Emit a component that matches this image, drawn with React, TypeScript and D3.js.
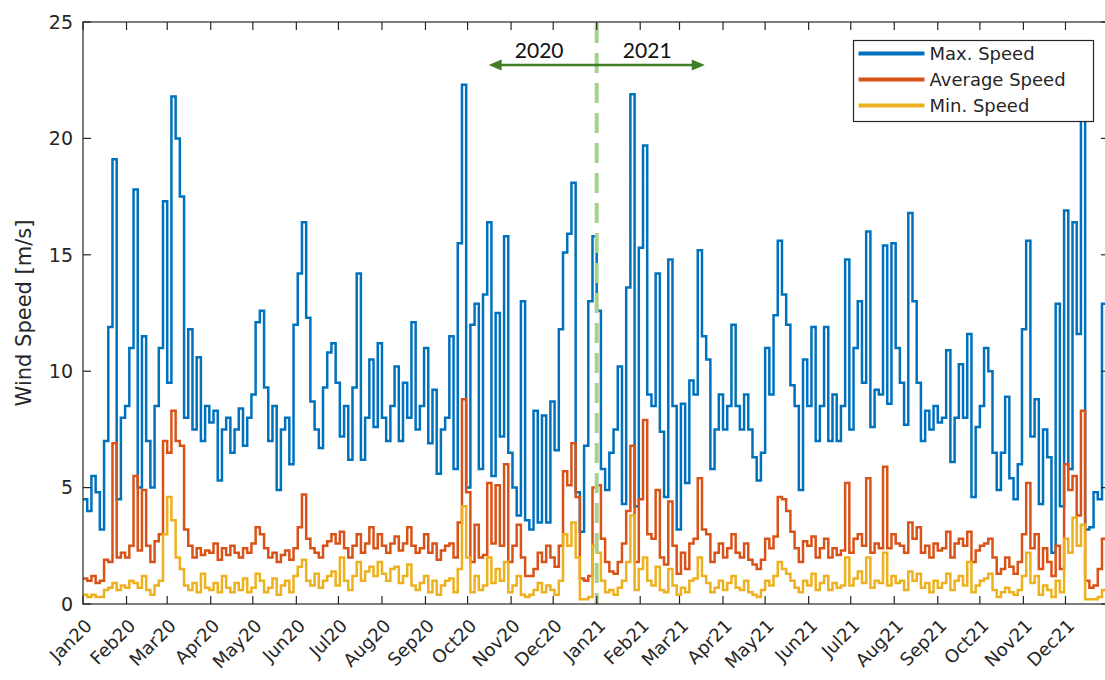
import React, { useEffect, useRef } from "react";
import * as d3 from "d3";

// daily wind speed, sampled every 3 days, Jan 2020 - Dec 2021
const startDate = new Date(2020, 0, 1);
const endDate = new Date(2022, 0, 1);
const stepDays = 3;

const maxSpeed = [
  4.5, 4.0, 5.5, 4.8, 3.2, 7.0, 11.9, 19.1, 4.5, 8.0,
  8.5, 11.0, 17.8, 5.0, 11.5, 7.0, 5.0, 8.5, 11.0, 17.3,
  9.5, 21.8, 20.0, 17.5, 8.0, 11.8, 7.5, 10.6, 7.0, 8.5,
  7.8, 8.3, 5.3, 7.5, 8.0, 6.5, 7.5, 8.4, 6.8, 8.0,
  9.0, 12.1, 12.6, 9.3, 7.0, 8.5, 4.9, 7.5, 8.0, 6.0,
  12.0, 14.2, 16.4, 12.3, 8.7, 7.5, 6.7, 9.3, 10.8, 11.2,
  9.5, 7.2, 8.5, 6.2, 9.3, 14.2, 6.2, 8.0, 10.5, 7.6,
  11.2, 8.0, 7.0, 8.5, 10.2, 7.0, 9.5, 8.0, 12.1, 7.5,
  8.5, 11.0, 6.9, 9.2, 5.6, 7.5, 8.0, 11.5, 5.8, 15.5,
  22.3, 5.0, 12.0, 12.9, 5.8, 13.3, 16.4, 5.5, 12.5, 7.2,
  15.8, 6.5, 5.0, 3.8, 13.0, 3.6, 3.2, 8.3, 3.5, 8.1,
  3.5, 8.7, 6.6, 11.8, 15.1, 15.9, 18.1, 4.8, 3.1, 6.8,
  13.0, 15.8, 12.6, 5.8, 4.9, 6.5, 7.5, 10.2, 4.3, 13.6,
  21.9, 4.2, 15.3, 19.7, 9.0, 8.5, 14.2, 7.4, 4.6, 14.8,
  8.5, 3.2, 8.6, 5.2, 9.6, 9.0, 15.2, 11.5, 10.5, 5.8,
  7.5, 9.0, 7.5, 8.5, 12.0, 8.5, 7.5, 9.0, 7.5, 6.3,
  5.3, 6.5, 11.0, 9.0, 12.4, 15.6, 13.3, 12.0, 9.4, 8.5,
  4.9, 10.5, 8.5, 11.9, 7.0, 8.5, 11.9, 7.0, 9.0, 7.0,
  8.5, 14.8, 7.5, 11.0, 13.0, 9.5, 16.0, 7.6, 9.2, 9.0,
  15.4, 8.6, 15.5, 11.0, 9.5, 7.7, 16.8, 13.0, 9.5, 7.0,
  8.3, 7.5, 8.5, 7.8, 8.0, 10.9, 6.1, 8.0, 10.3, 8.0,
  11.6, 4.6, 7.6, 8.5, 11.0, 10.0, 6.5, 4.9, 6.5, 8.9,
  5.4, 4.5, 6.0, 11.8, 15.6, 7.2, 8.8, 4.3, 7.5, 6.3,
  2.2, 12.9, 4.2, 16.9, 5.8, 16.4, 11.6, 20.9, 3.2, 3.3,
  4.8, 4.5, 12.9, 5.0,
];

const avgSpeed = [
  1.1, 1.0, 1.2, 0.9, 1.0, 1.9, 1.8, 6.9, 2.0, 2.2,
  2.0, 2.5, 5.5, 2.3, 4.9, 2.5, 1.8, 2.7, 3.0, 7.0,
  6.5, 8.3, 7.0, 6.8, 3.2, 2.5, 2.0, 2.4, 2.1, 2.3,
  2.2, 2.6, 1.9, 2.4, 2.1, 2.5, 2.2, 2.0, 2.4, 2.2,
  2.6, 3.3, 3.0, 2.4, 2.0, 2.2, 1.8, 2.1, 2.3, 1.9,
  2.4, 3.3, 4.7, 2.8, 2.4, 2.2, 2.0, 2.5, 2.7, 3.0,
  2.6, 3.1, 2.4, 2.0, 2.5, 3.0, 2.2, 2.6, 3.3, 2.4,
  3.0, 2.5, 2.2, 2.6, 2.9, 2.3, 2.6, 3.3, 2.5, 2.2,
  2.4, 3.0, 2.2, 2.6, 1.9, 2.3, 2.5, 2.6, 2.0, 3.5,
  8.8, 4.8, 1.8, 3.4, 2.0, 2.1, 5.2, 2.6, 5.1, 2.5,
  6.0, 1.8, 2.5, 3.4, 2.0, 1.2, 1.2, 1.5, 2.2, 1.8,
  2.5, 2.0, 1.6, 2.5, 5.7, 5.1, 6.9, 4.6, 1.1, 1.0,
  1.2, 5.0, 5.1, 2.8, 1.8, 1.4, 1.3, 1.8, 2.6, 4.0,
  6.8, 1.8, 4.5, 7.9, 3.0, 2.8, 4.9, 2.0, 1.7, 4.4,
  2.5, 1.3, 2.2, 1.5, 2.6, 2.8, 5.4, 3.2, 3.0, 1.8,
  2.2, 2.6, 2.0, 2.4, 3.0, 2.2, 2.0, 2.6, 1.9, 1.7,
  1.5, 1.9, 2.8, 2.4, 2.9, 4.6, 4.5, 4.0, 3.1, 2.4,
  1.8, 2.7, 2.5, 2.9, 2.0, 2.4, 2.8, 2.0, 2.4, 2.1,
  2.3, 5.2, 2.2, 2.8, 3.0, 2.5, 5.4, 2.2, 2.6, 2.4,
  5.9, 2.4, 3.0, 2.6, 2.5, 2.2, 3.5, 2.8, 3.3, 2.2,
  2.5, 2.0, 2.6, 2.3, 2.4, 3.1, 2.0, 2.6, 2.8, 2.5,
  3.1, 1.8, 2.3, 2.5, 2.6, 2.8, 2.0, 1.3, 1.5, 2.0,
  1.6, 1.3, 1.8, 3.0, 5.2, 2.4, 3.0, 1.5, 2.4, 1.8,
  1.2, 2.5, 1.5, 6.0, 4.9, 5.5, 3.8, 8.3, 1.0, 0.7,
  0.8, 1.5, 2.8, 1.6,
];

const minSpeed = [
  0.4, 0.3, 0.4, 0.3, 0.3, 0.6, 0.7, 0.9, 0.6, 0.8,
  0.7, 1.0, 0.9, 0.7, 1.2, 0.6, 0.4, 0.8, 1.0, 3.0,
  4.6, 3.6, 2.0, 1.5, 0.8, 0.6, 0.9, 0.5, 1.3, 0.7,
  0.6, 0.9, 0.5, 1.2, 0.7, 0.5, 0.9, 0.6, 1.1, 0.5,
  0.7, 1.3, 1.0, 0.5, 0.7, 1.1, 0.4, 0.8, 1.0, 0.5,
  1.2, 1.6, 1.9, 1.0, 0.8, 1.3, 0.7, 1.0, 1.2, 1.4,
  0.8, 2.0, 1.0, 0.6, 1.2, 1.8, 1.0, 1.4, 1.6, 1.2,
  1.8, 1.3, 1.0, 1.5, 1.6, 0.9, 1.2, 1.7, 0.8, 0.6,
  0.9, 1.2, 0.5, 1.0, 0.4, 0.8, 1.0, 1.1, 0.5, 1.5,
  4.2, 2.0, 0.5, 1.2, 0.6, 0.8, 2.0, 0.9, 1.5, 1.0,
  1.8, 0.5, 0.8, 1.2, 0.4, 0.3, 0.4, 0.6, 0.9, 0.5,
  0.8, 0.6, 0.4, 1.0, 3.0, 2.5, 3.5, 2.0, 0.2, 0.2,
  0.3, 2.5, 2.2, 1.0, 0.5, 0.6, 0.4, 0.7, 1.0, 1.8,
  3.8, 0.6, 1.5, 2.0, 1.0, 0.8, 1.6, 0.6, 0.5, 1.5,
  0.8, 0.4, 0.7, 0.5, 1.0, 1.1, 2.0, 1.2, 0.9, 0.5,
  0.7, 1.0, 0.6, 0.9, 1.2, 0.7, 0.6, 1.0, 0.5, 0.4,
  0.3, 0.6, 1.0, 0.8, 1.2, 1.8, 1.5, 1.3, 1.0, 0.7,
  0.5, 1.0, 0.8, 1.3, 0.6, 0.9, 1.2, 0.6, 0.9, 0.7,
  0.8, 2.0, 0.8, 1.1, 1.4, 0.9, 2.0, 0.7, 1.0, 0.9,
  2.2, 0.8, 1.2, 0.9, 1.0, 0.6, 1.4, 1.0, 1.3, 0.7,
  0.9, 0.5, 1.0, 0.7, 0.9, 1.3, 0.6, 1.0, 1.2, 0.8,
  1.8, 0.5, 0.8, 1.0, 1.1, 1.3, 0.6, 0.3, 0.5, 0.7,
  0.5, 0.4, 0.6, 1.2, 2.2, 0.9, 1.2, 0.4, 0.8, 0.6,
  0.3, 1.0, 0.5, 2.8, 2.2, 3.7, 2.5, 3.4, 0.2, 0.2,
  0.2, 0.3, 0.6, 0.4,
];

const yTicks = [0, 5, 10, 15, 20, 25];
const legendLabels = ["Max. Speed", "Average Speed", "Min. Speed"];
const seriesColors = ["#0072BD", "#D95319", "#EDB120"];

// year annotation
const yearBoundary = new Date(2021, 0, 1);
const yearLabels = ["2020", "2021"];
const yearLabelDates = [new Date(2020, 10, 21), new Date(2021, 1, 6)];
const arrowStart = new Date(2020, 9, 16);
const arrowEnd = new Date(2021, 2, 19);
const arrowLevel = 23.15;
const yearLabelLevel = 23.45;

export default function App() {
  const svgRef = useRef<SVGSVGElement>(null);

  useEffect(() => {
    drawChart();
  }, []);

  function drawChart() {
    const width = 1105;
    const height = 680;
    const left = 83, right = 1109, top = 22, bottom = 604;
    const font = "DejaVu Sans, Verdana, sans-serif";
    const axisColor = "#262626";

    const svg = d3.select(svgRef.current)
      .attr("width", width)
      .attr("height", height);
    svg.selectAll("*").remove();

    const x = d3.scaleTime().domain([startDate, endDate]).range([left, right]);
    const y = d3.scaleLinear().domain([0, 25]).range([bottom, top]);

    svg.append("rect")
      .attr("width", width).attr("height", height).attr("fill", "#fff");

    svg.append("clipPath").attr("id", "plot-clip")
      .append("rect")
      .attr("x", left).attr("y", top)
      .attr("width", right - left).attr("height", bottom - top);

    // stairs for the three series
    const toPoints = (vals: number[]) => {
      const pts = vals.map((v, i) => ({ date: d3.timeDay.offset(startDate, i * stepDays), v }));
      pts.push({ date: d3.timeDay.offset(startDate, vals.length * stepDays), v: vals[vals.length - 1] });
      return pts;
    };
    const line = d3.line<{ date: Date; v: number }>()
      .x(d => x(d.date))
      .y(d => y(d.v))
      .curve(d3.curveStepAfter);

    const plot = svg.append("g").attr("clip-path", "url(#plot-clip)");
    [maxSpeed, avgSpeed, minSpeed].forEach((vals, i) => {
      plot.append("path")
        .attr("d", line(toPoints(vals)))
        .attr("fill", "none")
        .attr("stroke", seriesColors[i])
        .attr("stroke-width", 2.5)
        .attr("stroke-linejoin", "miter");
    });

    // year boundary
    svg.append("line")
      .attr("x1", x(yearBoundary)).attr("x2", x(yearBoundary))
      .attr("y1", y(25) + 1).attr("y2", y(0))
      .attr("stroke", "#a9d18e")
      .attr("stroke-width", 4)
      .attr("stroke-dasharray", "20,10");

    // box
    svg.append("rect")
      .attr("x", left).attr("y", top)
      .attr("width", right - left).attr("height", bottom - top)
      .attr("fill", "none")
      .attr("stroke", axisColor)
      .attr("stroke-width", 1.2);

    // x ticks (months)
    const months = x.ticks(d3.timeMonth.every(1)!).filter(d => d < endDate);
    const fmt = d3.timeFormat("%b%y");
    months.forEach(d => {
      const tx = x(d);
      svg.append("line")
        .attr("x1", tx).attr("x2", tx).attr("y1", bottom).attr("y2", bottom - 8)
        .attr("stroke", axisColor).attr("stroke-width", 1.2);
      svg.append("line")
        .attr("x1", tx).attr("x2", tx).attr("y1", top).attr("y2", top + 8)
        .attr("stroke", axisColor).attr("stroke-width", 1.2);
      svg.append("text")
        .attr("transform", `translate(${tx + 10}, ${bottom + 23}) rotate(-45)`)
        .attr("text-anchor", "end")
        .attr("font-family", font)
        .attr("font-size", 18)
        .attr("fill", axisColor)
        .text(fmt(d));
    });

    // y ticks
    yTicks.forEach(v => {
      const ty = y(v);
      svg.append("line")
        .attr("x1", left).attr("x2", left + 8).attr("y1", ty).attr("y2", ty)
        .attr("stroke", axisColor).attr("stroke-width", 1.2);
      svg.append("line")
        .attr("x1", right).attr("x2", right - 8).attr("y1", ty).attr("y2", ty)
        .attr("stroke", axisColor).attr("stroke-width", 1.2);
      svg.append("text")
        .attr("x", 73).attr("y", ty)
        .attr("dy", "0.36em")
        .attr("text-anchor", "end")
        .attr("font-family", font)
        .attr("font-size", 19)
        .attr("fill", axisColor)
        .text(v);
    });

    // y axis label
    svg.append("text")
      .attr("transform", `translate(31, ${(top + bottom) / 2}) rotate(-90)`)
      .attr("text-anchor", "middle")
      .attr("font-family", font)
      .attr("font-size", 21)
      .attr("fill", axisColor)
      .text("Wind Speed [m/s]");

    // year arrow
    const green = "#3f7d26";
    const ax1 = x(arrowStart), ax2 = x(arrowEnd), ay = y(arrowLevel);
    svg.append("line")
      .attr("x1", ax1 + 8).attr("x2", ax2 - 8).attr("y1", ay).attr("y2", ay)
      .attr("stroke", green).attr("stroke-width", 2.5);
    svg.append("path")
      .attr("d", `M${ax1},${ay} L${ax1 + 13},${ay - 5.5} L${ax1 + 13},${ay + 5.5} Z`)
      .attr("fill", green);
    svg.append("path")
      .attr("d", `M${ax2},${ay} L${ax2 - 13},${ay - 5.5} L${ax2 - 13},${ay + 5.5} Z`)
      .attr("fill", green);
    yearLabels.forEach((t, i) => {
      svg.append("text")
        .attr("x", x(yearLabelDates[i])).attr("y", y(yearLabelLevel))
        .attr("text-anchor", "middle")
        .attr("font-family", "Lato, Open Sans, sans-serif")
        .attr("font-size", 21)
        .attr("fill", "#111")
        .text(t);
    });

    // legend
    const legend = svg.append("g").attr("transform", "translate(853.5, 40.5)");
    legend.append("rect")
      .attr("width", 240).attr("height", 81)
      .attr("fill", "#fff")
      .attr("stroke", axisColor).attr("stroke-width", 1.2);
    legendLabels.forEach((t, i) => {
      const ly = 13 + i * 26;
      legend.append("line")
        .attr("x1", 5).attr("x2", 71).attr("y1", ly).attr("y2", ly)
        .attr("stroke", seriesColors[i]).attr("stroke-width", 4);
      legend.append("text")
        .attr("x", 76).attr("y", ly)
        .attr("dy", "0.36em")
        .attr("font-family", font)
        .attr("font-size", 18)
        .attr("fill", axisColor)
        .text(t);
    });
  }

  return (
    <svg ref={svgRef} style={{ position: "absolute", left: 0, top: 0, display: "block" }} />
  );
}
